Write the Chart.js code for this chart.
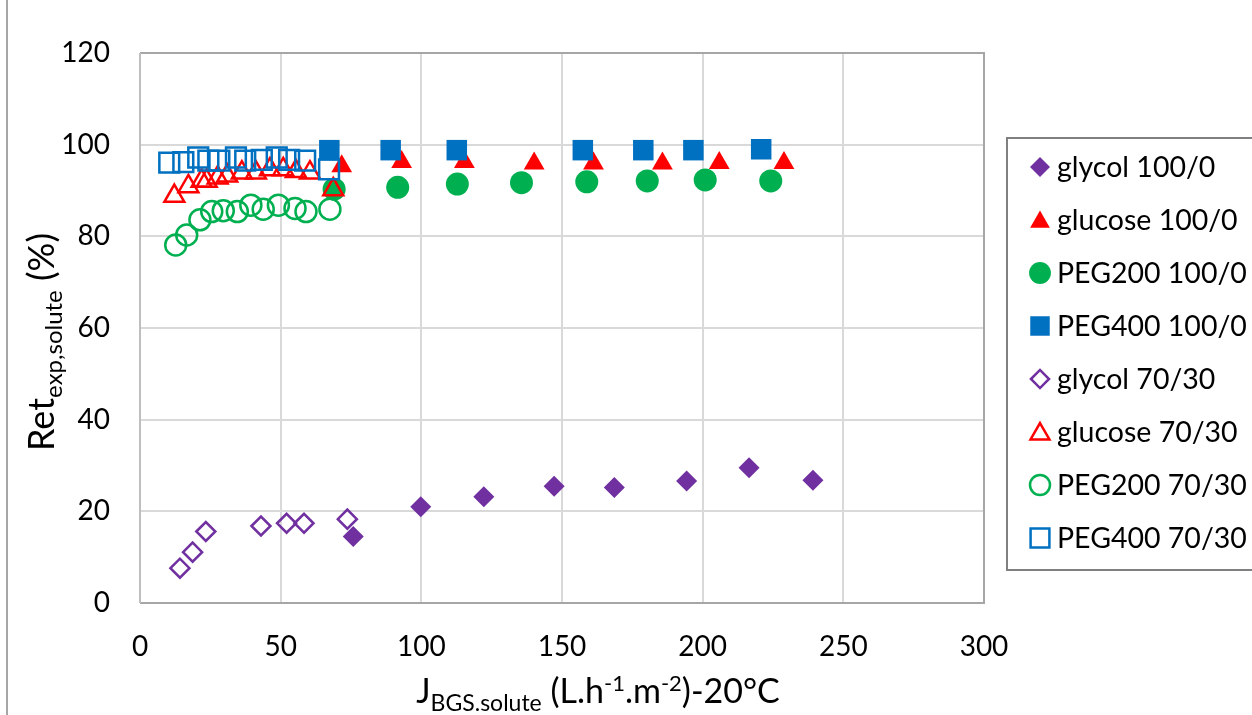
<!DOCTYPE html>
<html>
<head>
<meta charset="utf-8">
<script src="https://cdn.jsdelivr.net/npm/chart.js@4.4.1/dist/chart.umd.min.js"></script>
<style>
  html, body { margin: 0; padding: 0; background: #fff; }
  #wrap { width: 1252px; height: 715px; position: relative; }
</style>
</head>
<body>
<div id="wrap"><canvas id="c" width="1252" height="715"></canvas></div>
<script>
// ---- data ----
const seriesNames = ["glycol 100/0", "glucose 100/0", "PEG200 100/0", "PEG400 100/0",
                     "glycol 70/30", "glucose 70/30", "PEG200 70/30", "PEG400 70/30"];

const glycol100X = [75.8, 99.8, 122.2, 147.2, 168.6, 194.3, 216.5, 239.2];
const glycol100Y = [14.5, 21.0, 23.2, 25.5, 25.2, 26.6, 29.5, 26.8];

const glucose100X = [71.7, 93.0, 115.3, 140.1, 161.2, 185.7, 205.9, 228.9];
const glucose100Y = [95.3, 96.2, 96.2, 95.9, 95.9, 95.9, 96.0, 96.0];

const peg200_100X = [69.0, 91.6, 112.8, 135.6, 158.8, 180.3, 200.9, 224.2];
const peg200_100Y = [90.3, 90.7, 91.4, 91.7, 91.9, 92.1, 92.3, 92.1];

const peg400_100X = [67.3, 89.1, 112.6, 157.4, 178.9, 196.7, 220.8];
const peg400_100Y = [98.8, 98.8, 98.8, 98.8, 98.8, 98.8, 99.0];

const glycol70X = [14.2, 18.7, 23.4, 43.0, 52.1, 58.3, 73.7];
const glycol70Y = [7.6, 11.1, 15.6, 16.8, 17.4, 17.4, 18.3];

const glucose70X = [12.2, 17.2, 21.9, 23.7, 27.6, 31.0, 36.2, 41.2, 46.2, 50.9, 55.4, 60.4, 68.7];
const glucose70Y = [88.8, 90.9, 92.1, 92.1, 92.8, 93.2, 93.9, 93.9, 94.6, 94.6, 94.2, 93.9, 90.2];

const peg200_70X = [12.7, 16.6, 21.3, 25.5, 29.6, 34.6, 39.4, 43.8, 49.2, 55.1, 59.0, 67.5];
const peg200_70Y = [78.1, 80.3, 83.6, 85.4, 85.6, 85.4, 86.8, 85.9, 86.8, 86.1, 85.4, 85.9];

const peg400_70X = [10.4, 15.4, 20.7, 24.3, 28.2, 34.1, 37.4, 43.3, 48.6, 53.0, 58.7, 67.2];
const peg400_70Y = [96.1, 96.2, 97.2, 96.5, 96.5, 97.2, 96.5, 96.7, 97.2, 96.7, 96.5, 94.6];

const xTicks = [0, 50, 100, 150, 200, 250, 300];
const yTicks = [0, 20, 40, 60, 80, 100, 120];

// ---- styling ----
const PURPLE = '#7030a0', RED = '#ff0000', GREEN = '#00b050', BLUE = '#0070c0';
const FONT = 'Lato, "Open Sans", sans-serif';

function pts(xs, ys) { return xs.map((x, i) => ({ x: x, y: ys[i] })); }

const styles = [
  { style: 'rectRot', color: PURPLE, filled: true, r: 10.5 },
  { style: 'triangle', color: RED, filled: true, r: 12 },
  { style: 'circle', color: GREEN, filled: true, r: 11.5 },
  { style: 'rect', color: BLUE, filled: true, r: 14.5 },
  { style: 'rectRot', color: PURPLE, filled: false, r: 9.5 },
  { style: 'triangle', color: RED, filled: false, r: 11.5 },
  { style: 'circle', color: GREEN, filled: false, r: 10.5 },
  { style: 'rect', color: BLUE, filled: false, r: 14 }
];
const dataLists = [
  pts(glycol100X, glycol100Y), pts(glucose100X, glucose100Y),
  pts(peg200_100X, peg200_100Y), pts(peg400_100X, peg400_100Y),
  pts(glycol70X, glycol70Y), pts(glucose70X, glucose70Y),
  pts(peg200_70X, peg200_70Y), pts(peg400_70X, peg400_70Y)
];

const datasets = seriesNames.map((name, i) => {
  const s = styles[i];
  return {
    label: name,
    data: dataLists[i],
    pointStyle: s.style,
    pointRadius: s.r,
    pointHoverRadius: s.r,
    backgroundColor: s.filled ? s.color : 'rgba(0,0,0,0)',
    borderColor: s.color,
    pointBorderWidth: s.filled ? 0 : 2.5,
    borderWidth: s.filled ? 0 : 2.5,
    showLine: false,
    order: seriesNames.length - i
  };
});

const PLOT = { left: 140, right: 984, top: 53, bottom: 603 };

function drawRich(ctx, parts, x, y, align) {
  let total = 0;
  parts.forEach(p => { ctx.font = p.size + 'px ' + FONT; p.w = ctx.measureText(p.t).width; total += p.w; });
  let cx = align === 'center' ? x - total / 2 : x;
  parts.forEach(p => {
    ctx.font = p.size + 'px ' + FONT;
    ctx.fillText(p.t, cx, y + (p.dy || 0));
    cx += p.w;
  });
}

const decor = {
  id: 'decor',
  beforeDatasetsDraw(chart) {
    const ctx = chart.ctx, a = chart.chartArea;
    ctx.save();
    ctx.lineWidth = 2;
    ctx.strokeStyle = '#a6a6a6';
    ctx.beginPath();
    ctx.moveTo(a.left, a.top); ctx.lineTo(a.right, a.top);
    ctx.lineTo(a.right, a.bottom); ctx.lineTo(a.left, a.bottom);
    ctx.stroke();
    ctx.strokeStyle = '#bfbfbf';
    ctx.beginPath();
    ctx.moveTo(a.left, a.top); ctx.lineTo(a.left, a.bottom);
    ctx.stroke();
    ctx.restore();
  },
  afterDraw(chart) {
    const ctx = chart.ctx;
    ctx.save();
    // outer chart border (left edge visible)
    ctx.strokeStyle = '#a6a6a6';
    ctx.lineWidth = 2;
    ctx.beginPath(); ctx.moveTo(7, 0); ctx.lineTo(7, 715); ctx.stroke();

    // axis titles
    ctx.fillStyle = '#000';
    ctx.textBaseline = 'alphabetic';
    ctx.textAlign = 'left';
    drawRich(ctx, [
      { t: 'J', size: 34 },
      { t: 'BGS.solute', size: 23, dy: 8 },
      { t: ' (L.h', size: 34 },
      { t: '-1', size: 22, dy: -12 },
      { t: '.m', size: 34 },
      { t: '-2', size: 22, dy: -12 },
      { t: ')-20°C', size: 34 }
    ], 598, 703, 'center');

    ctx.save();
    ctx.translate(54, 342);
    ctx.rotate(-Math.PI / 2);
    drawRich(ctx, [
      { t: 'Ret', size: 36 },
      { t: 'exp,solute', size: 24, dy: 8 },
      { t: ' (%)', size: 36 }
    ], 0, 0, 'center');
    ctx.restore();

    // legend
    const L = { x: 1007, y: 138, w: 260, h: 432 };
    ctx.strokeStyle = '#808080';
    ctx.lineWidth = 2;
    ctx.strokeRect(L.x, L.y, L.w, L.h);
    ctx.font = '28.5px ' + FONT;
    ctx.textBaseline = 'middle';
    chart.data.datasets.forEach((ds, i) => {
      const cy = 167 + i * 53.0;
      const s = styles[i];
      ctx.save();
      ctx.fillStyle = s.filled ? s.color : 'rgba(0,0,0,0)';
      ctx.strokeStyle = s.color;
      ctx.lineWidth = s.filled ? 0 : 2.5;
      Chart.helpers.drawPoint(ctx, {
        pointStyle: s.style, radius: s.r * 0.95, rotation: 0,
        borderWidth: s.filled ? 0 : 2.5
      }, 1040, s.style === 'triangle' ? cy + 2 : cy);
      ctx.restore();
      ctx.fillStyle = '#000';
      ctx.fillText(ds.label, 1057, cy + 1);
    });
    ctx.restore();
  }
};

new Chart(document.getElementById('c'), {
  type: 'scatter',
  data: { datasets: datasets },
  options: {
    responsive: false,
    animation: false,
    events: [],
    layout: { padding: { left: 0, top: PLOT.top, right: 1252 - PLOT.right, bottom: 0 } },
    plugins: { legend: { display: false }, tooltip: { enabled: false }, title: { display: false } },
    scales: {
      x: {
        type: 'linear', min: 0, max: 300,
        afterBuildTicks: s => { s.ticks = xTicks.map(v => ({ value: v })); },
        afterFit: s => { s.height = 715 - PLOT.bottom; },
        grid: { color: '#d9d9d9', lineWidth: 2, drawTicks: false },
        border: { display: false },
        ticks: { color: '#000', font: { family: FONT, size: 28 }, padding: 27, maxRotation: 0 }
      },
      y: {
        type: 'linear', min: 0, max: 120,
        afterBuildTicks: s => { s.ticks = yTicks.map(v => ({ value: v })); },
        afterFit: s => { s.width = PLOT.left; },
        grid: { color: '#d9d9d9', lineWidth: 2, drawTicks: false },
        border: { display: false },
        ticks: { color: '#000', font: { family: FONT, size: 28 }, padding: 30 }
      }
    }
  },
  plugins: [decor]
});
</script>
</body>
</html>
